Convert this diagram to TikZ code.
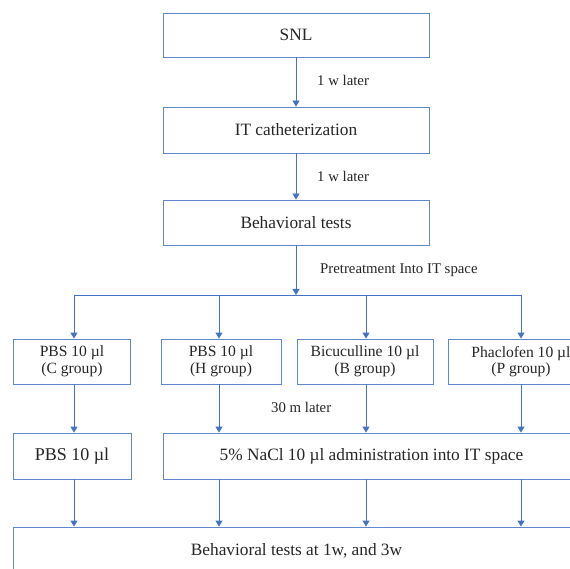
\documentclass[tikz,border=0pt]{standalone}
\usepackage{fontspec}
\setmainfont{Liberation Serif}
\usetikzlibrary{arrows.meta,positioning,calc}
\definecolor{boxblue}{RGB}{96,134,204}
\definecolor{arrowblue}{RGB}{68,114,196}
\definecolor{inkgray}{RGB}{38,38,38}
\tikzset{
 stepbox/.style={draw=boxblue,line width=0.85pt,text=inkgray,inner sep=0pt,
  font=\fontsize{17.3}{20}\selectfont},
 groupbox/.style={stepbox,align=center,font=\fontsize{15.6}{16.5}\selectfont},
 flow/.style={->,arrowblue,line width=0.85pt},
 note/.style={anchor=west,text=inkgray,inner sep=0pt,font=\fontsize{14.8}{17}\selectfont}
}
\begin{document}
\begin{tikzpicture}[x=1pt,y=-1pt,>={Triangle[width=7pt,length=6pt]}]
\useasboundingbox[fill=white](0,0)rectangle(570,569);
% main line
\node[stepbox,minimum width=266pt,minimum height=44pt](snl)at(296,35){SNL};
\node[stepbox,minimum width=266pt,minimum height=46pt](cath)at(296,130){IT catheterization};
\node[stepbox,minimum width=266pt,minimum height=45pt](beh)at(296,222.5){Behavioral tests};
\draw[flow](snl)--(cath);\node[note]at(317,80){1 w later};
\draw[flow](cath)--(beh);\node[note]at(317,176){1 w later};
% pretreatment groups
\node[groupbox,minimum width=117pt,minimum height=45pt](cgrp)at(72,361.5){PBS 10 µl\\(C group)};
\node[groupbox,minimum width=120pt,minimum height=45pt](hgrp)at(221,361.5){PBS 10 µl\\(H group)};
\node[groupbox,minimum width=136pt,minimum height=45pt](bgrp)at(365,361.5){Bicuculline 10 µl\\(B group)};
\node[groupbox,minimum width=146pt,minimum height=45pt](pgrp)at(521,361.5){Phaclofen 10 µl\\(P group)};
\coordinate(split)at(296,295);
\coordinate(cx)at(74,0);\coordinate(hx)at(219,0);\coordinate(bx)at(366,0);\coordinate(px)at(521,0);
\draw[flow](beh)--(split);
\node[note]at(320,270){Pretreatment Into IT space};
\draw[arrowblue,line width=0.85pt](cx|-split)--(px|-split);
\foreach \g/\x in {cgrp/cx,hgrp/hx,bgrp/bx,pgrp/px}
 \draw[flow](\x|-split)--(\x|-\g.north);
% injection
\node[stepbox,minimum width=118pt,minimum height=46pt,font=\fontsize{18}{20}\selectfont](cpbs)at(72,456){PBS 10 µl};
\node[stepbox,minimum width=417pt,minimum height=46pt](nacl)at(371.5,456){5\% NaCl 10 µl administration into IT space};
\draw[flow](cx|-cgrp.south)--(cx|-cpbs.north);
\foreach \g/\x in {hgrp/hx,bgrp/bx,pgrp/px}
 \draw[flow](\x|-\g.south)--(\x|-nacl.north);
\node[note]at(271,407){30 m later};
% final tests
\node[stepbox,minimum width=567pt,minimum height=48pt](final)at(296.5,551){Behavioral tests at 1w, and 3w};
\draw[flow](cx|-cpbs.south)--(cx|-final.north);
\foreach \x in {hx,bx,px}
 \draw[flow](\x|-nacl.south)--(\x|-final.north);
\end{tikzpicture}
\end{document}
